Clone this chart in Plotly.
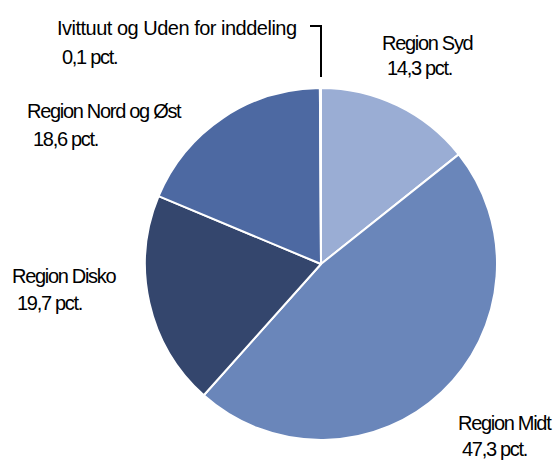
import plotly.graph_objects as go

regions = ["Region Syd", "Region Midt", "Region Disko", "Region Nord og Øst", "Ivittuut og Uden for inddeling"]
shares = [14.3, 47.3, 19.7, 18.6, 0.1]
share_labels = ["14,3 pct.", "47,3 pct.", "19,7 pct.", "18,6 pct.", "0,1 pct."]
colors = ["#9aadd4", "#6a86ba", "#34466d", "#4d69a2", "#c4cfe6"]

W, H = 558, 461
cx, cy, r = 321, 264, 176

fig = go.Figure(go.Pie(
    labels=regions, values=shares, sort=False, direction="clockwise", rotation=0,
    marker=dict(colors=colors, line=dict(color="white", width=2)),
    textinfo="none", hoverinfo="skip", showlegend=False,
    domain=dict(x=[(cx - r) / W, (cx + r) / W], y=[1 - (cy + r) / H, 1 - (cy - r) / H]),
))

# label placements in pixels: (left x line1, center y line1, left x line2, center y line2)
label_pos = [
    (380, 43, 385, 68),
    (456, 423, 460, 449),
    (10, 276, 15, 303),
    (25, 111, 31, 139),
    (55, 28, 60, 57),
]

font = dict(family="Liberation Sans, Arial, sans-serif", size=20, color="#000000")
annotations = []
for name, lab, (x1, y1, x2, y2) in zip(regions, share_labels, label_pos):
    annotations.append(dict(text=name, x=x1 / W, y=1 - y1 / H, xref="paper", yref="paper",
                            xanchor="left", yanchor="middle", align="left", showarrow=False, font=font))
    annotations.append(dict(text=lab, x=x2 / W, y=1 - y2 / H, xref="paper", yref="paper",
                            xanchor="left", yanchor="middle", align="left", showarrow=False, font=font))

# leader line for the tiny slice
fig.add_shape(type="path", path=f"M {310/W} {1-26/H} L {321/W} {1-26/H} L {321/W} {1-77/H}",
              xref="paper", yref="paper", line=dict(color="black", width=2))

fig.update_layout(
    width=W, height=H, margin=dict(l=0, r=0, t=0, b=0),
    paper_bgcolor="white", plot_bgcolor="white",
    annotations=annotations,
)

post = """
document.body.style.margin='0';
document.querySelectorAll('.annotation-text').forEach(function(e){
  var t = e.textContent;
  e.style.letterSpacing = (t.indexOf('Ivittuut') === 0) ? '-0.5px' : '-1.3px';
});
"""
fig.write_html("out.html", post_script=post, config={"displayModeBar": False})
